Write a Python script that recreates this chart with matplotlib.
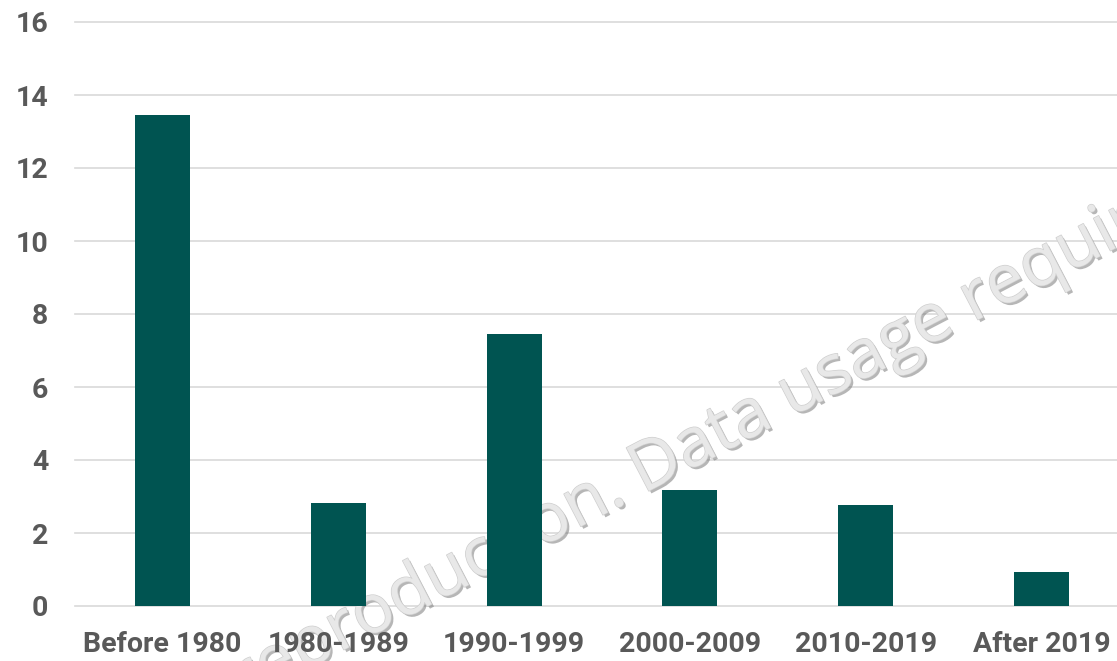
import matplotlib
matplotlib.use("Agg")
import matplotlib.pyplot as plt
import matplotlib.patheffects as pe

categories = ["Before 1980", "1980-1989", "1990-1999", "2000-2009", "2010-2019", "After 2019"]
values = [13.45, 2.82, 7.45, 3.18, 2.77, 0.93]
yticks = [0, 2, 4, 6, 8, 10, 12, 14, 16]

BAR = "#005451"
TXT = "#595959"
GRID = "#D9D9D9"

fig = plt.figure(figsize=(11.17, 6.61), dpi=100)
ax = fig.add_axes([74.5 / 1117, 55 / 661, 1055 / 1117, 584 / 661])

x = list(range(len(categories)))
ax.bar(x, values, width=0.3125, color=BAR, zorder=2)
ax.set_xlim(-0.5, len(categories) - 0.5)
ax.set_ylim(0, 16)

for t in yticks:
    ax.axhline(t, color=GRID, lw=1.2, zorder=0.3, clip_on=False)

ax.set_yticks(yticks)
ax.set_yticklabels([str(t) for t in yticks])
ax.set_xticks(x)
ax.set_xticklabels(categories)
for spine in ax.spines.values():
    spine.set_visible(False)
ax.tick_params(axis="both", length=0, labelcolor=TXT, labelsize=20.5)
ax.tick_params(axis="y", pad=19)
ax.tick_params(axis="x", pad=18)
for lab in ax.get_xticklabels() + ax.get_yticklabels():
    lab.set_fontfamily("Roboto")
    lab.set_fontweight("bold")
ax.xaxis.set_zorder(3)
ax.yaxis.set_zorder(3)

# watermark
ang = 27.5
effects = [pe.withSimplePatchShadow(offset=(1.8, -1.8), shadow_rgbFace="#7a7a7a", alpha=0.55),
           pe.Stroke(linewidth=1.0, foreground="#CFCFCF"),
           pe.Normal()]
ax_x, ax_y = 643 / 1117, 1 - 494 / 661
kw = dict(transform=fig.transFigure, rotation=ang, rotation_mode="anchor",
          va="baseline", fontsize=49, color="#E8E8E8", family="Open Sans",
          zorder=0.5, clip_on=False, path_effects=effects)
ax.text(ax_x, ax_y, "No reproduction. ", ha="right", **kw)
ax.text(ax_x, ax_y, "Data usage requires permission", ha="left", **kw)

fig.savefig("out.png", dpi=100)
